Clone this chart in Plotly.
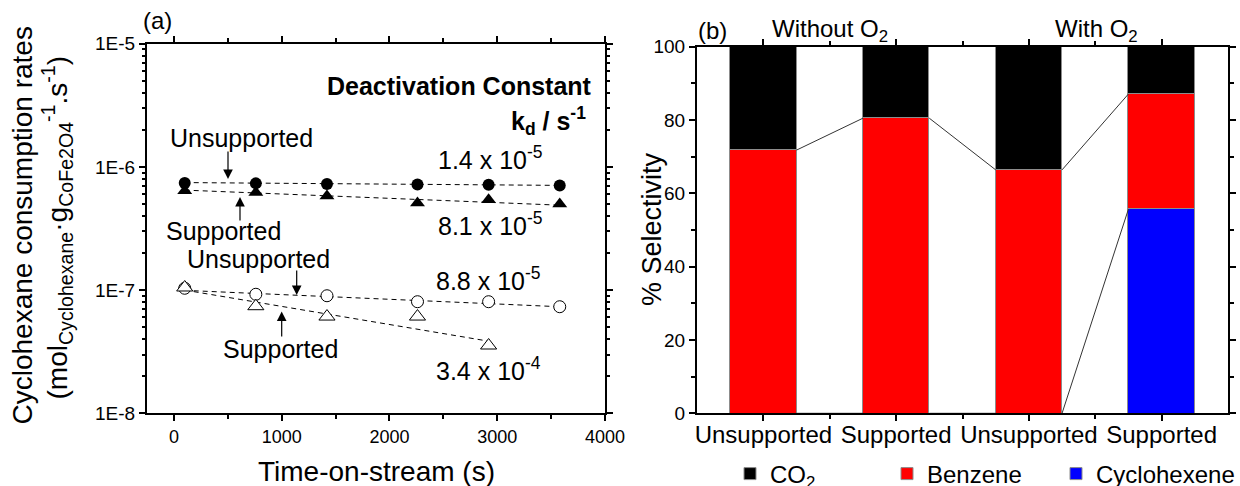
import numpy as np
import plotly.graph_objects as go

W, H = 1240, 486
FONT = "Liberation Sans, Arial, sans-serif"

# ---------------- panel (a) data ----------------
time_s = [100, 760, 1420, 2260, 2920, 3580]
rate_unsup_filled = [7.4e-7, 7.35e-7, 7.25e-7, 7.2e-7, 7.15e-7, 7.05e-7]
rate_sup_filled = [6.4e-7, 6.2e-7, 5.8e-7, 5.1e-7, 5.4e-7, 5.0e-7]
rate_unsup_open = [1.035e-7, 9.25e-8, 9.0e-8, 8.05e-8, 8.05e-8, 7.33e-8]
time_sup_open = [100, 760, 1420, 2260, 2920]
rate_sup_open = [1.05e-7, 7.4e-8, 6.1e-8, 6.1e-8, 3.55e-8]

# fitted (dashed) lines, end points
fit_time = [100, 3580]
fit_unsup_filled = [7.46e-7, 7.08e-7]
fit_sup_filled = [6.48e-7, 4.89e-7]
fit_unsup_open = [9.95e-8, 7.33e-8]
fit_time_sup_open = [100, 2920]
fit_sup_open = [1.0e-7, 3.85e-8]

kd_labels = ["1.4 x 10<sup>-5</sup>", "8.1 x 10<sup>-5</sup>",
             "8.8 x 10<sup>-5</sup>", "3.4 x 10<sup>-4</sup>"]

xa_ticks = [0, 1000, 2000, 3000, 4000]
ya_tickvals = [1e-8, 1e-7, 1e-6, 1e-5]
ya_ticktext = ["1E-8", "1E-7", "1E-6", "1E-5"]

# ---------------- panel (b) data ----------------
categories = ["Unsupported", "Supported", "Unsupported", "Supported"]
cyclohexene = [0, 0, 0, 55.7]
benzene = [71.8, 80.5, 66.4, 31.4]
co2 = [28.2, 19.5, 33.6, 12.9]

xpos = np.arange(1, len(categories) + 1)
BAR_W = 0.5

fig = go.Figure()

# ---- panel (a) traces ----
dash = "5px,4px"
for tx, ty in [(fit_time, fit_unsup_filled), (fit_time, fit_sup_filled),
               (fit_time, fit_unsup_open), (fit_time_sup_open, fit_sup_open)]:
    fig.add_trace(go.Scatter(x=tx, y=ty, mode="lines", xaxis="x", yaxis="y",
                             line=dict(color="black", width=1, dash=dash),
                             showlegend=False, hoverinfo="skip"))

fig.add_trace(go.Scatter(x=time_s, y=rate_unsup_open, mode="markers", xaxis="x", yaxis="y",
                         marker=dict(symbol="circle", size=12, color="white",
                                     line=dict(color="black", width=1)), showlegend=False))
fig.add_trace(go.Scatter(x=time_sup_open, y=rate_sup_open, mode="markers", xaxis="x", yaxis="y",
                         marker=dict(symbol="triangle-up", size=14, color="white",
                                     line=dict(color="black", width=1)), showlegend=False))
fig.add_trace(go.Scatter(x=time_s, y=rate_sup_filled, mode="markers", xaxis="x", yaxis="y",
                         marker=dict(symbol="triangle-up", size=13, color="black"), showlegend=False))
fig.add_trace(go.Scatter(x=time_s, y=rate_unsup_filled, mode="markers", xaxis="x", yaxis="y",
                         marker=dict(symbol="circle", size=12, color="black"), showlegend=False))

# ---- panel (b) traces ----
outline = dict(color="#8c8c8c", width=1)
fig.add_trace(go.Bar(x=xpos, y=cyclohexene, width=BAR_W, xaxis="x2", yaxis="y2",
                     marker=dict(color="#0000ff", line=outline), name="Cyclohexene",
                     legend="legend3"))
fig.add_trace(go.Bar(x=xpos, y=benzene, width=BAR_W, xaxis="x2", yaxis="y2",
                     marker=dict(color="#ff0000", line=outline), name="Benzene",
                     legend="legend2"))
fig.add_trace(go.Bar(x=xpos, y=co2, width=BAR_W, xaxis="x2", yaxis="y2",
                     marker=dict(color="#000000", line=outline), name="CO<sub>2</sub>",
                     legend="legend"))

# connecting lines between stacked tops
top_cyc = np.array(cyclohexene, dtype=float)
top_benz = top_cyc + np.array(benzene, dtype=float)
lx, ly = [], []
for top in (top_cyc, top_benz):
    for i in range(len(xpos) - 1):
        lx += [xpos[i] + BAR_W / 2, xpos[i + 1] - BAR_W / 2, None]
        ly += [top[i], top[i + 1], None]
fig.add_trace(go.Scatter(x=lx, y=ly, mode="lines", xaxis="x2", yaxis="y2",
                         line=dict(color="#333333", width=1), showlegend=False,
                         hoverinfo="skip"))

# ---- axes ----
axis_common = dict(showgrid=False, zeroline=False, showline=True, linecolor="black",
                   linewidth=2, mirror="allticks", ticks="outside", ticklen=6,
                   tickwidth=1.5, tickcolor="black", automargin=False,
                   tickfont=dict(family=FONT, size=18, color="black"))

def py2paper(py):
    return 1 - py / H

fig.update_layout(
    width=W, height=H, margin=dict(l=0, r=0, t=0, b=0, autoexpand=False),
    paper_bgcolor="white", plot_bgcolor="white", barmode="stack", bargap=0,
    font=dict(family=FONT, color="black"),
    xaxis=dict(axis_common, domain=[147 / W, 605 / W], range=[-250, 4000],
               tickvals=xa_ticks, anchor="y",
               minor=dict(ticks="outside", ticklen=4, tickwidth=1.5, tickcolor="black",
                          tickvals=[500, 1500, 2500, 3500], showgrid=False)),
    yaxis=dict(axis_common, type="log", domain=[py2paper(413.3), py2paper(43.7)],
               range=[-8, -5], tickvals=ya_tickvals, ticktext=ya_ticktext, anchor="x",
               tickfont=dict(family=FONT, size=19, color="black"),
               minor=dict(ticks="outside", ticklen=3, tickwidth=1.5, tickcolor="black",
                          tickvals=[m * 10.0 ** e for e in (-8, -7, -6) for m in range(2, 10)],
                          showgrid=False)),
    xaxis2=dict(axis_common, domain=[697 / W, 1228 / W], range=[0.5, 4.5],
                tickvals=list(xpos), ticktext=categories, anchor="y2",
                ticklabelstandoff=-7,
                tickfont=dict(family=FONT, size=24, color="black"),
                minor=dict(ticks="outside", ticklen=4, tickwidth=1.5, tickcolor="black",
                           tickvals=[1.5, 2.5, 3.5], showgrid=False)),
    yaxis2=dict(axis_common, domain=[py2paper(413.3), py2paper(46.7)], range=[0, 100],
                dtick=20, anchor="x2",
                tickfont=dict(family=FONT, size=19, color="black"),
                minor=dict(ticks="outside", ticklen=4, tickwidth=1.5, tickcolor="black",
                           dtick=10, showgrid=False)),
)

leg_common = dict(orientation="h", yanchor="middle", xanchor="left", y=py2paper(474),
                  xref="container", yref="container",
                  bgcolor="rgba(0,0,0,0)", font=dict(family=FONT, size=24, color="black"))
fig.update_layout(
    legend=dict(leg_common, x=730 / W),
    legend2=dict(leg_common, x=887 / W),
    legend3=dict(leg_common, x=1.0, xanchor="right"),
)

# ---- annotations ----
anns = []

def text_ann(text, px, py, size, xanchor="center", angle=0):
    anns.append(dict(text=text, x=px / W, y=py2paper(py), xref="paper", yref="paper",
                     xanchor=xanchor, yanchor="middle", showarrow=False, textangle=angle,
                     font=dict(family=FONT, size=size, color="black")))

def arrow_ann(px, py_head, py_tail):
    anns.append(dict(text="", x=px / W, y=py2paper(py_head), xref="paper", yref="paper",
                     ax=0, ay=py_tail - py_head, showarrow=True, arrowhead=2,
                     arrowsize=1.6, arrowwidth=1.2, arrowcolor="black", standoff=0))

text_ann("(a)", 157, 21, 24)
text_ann("(b)", 712.5, 30, 24)
text_ann("Without O<sub>2</sub>", 770, 31, 24, xanchor="left")
text_ann("With O<sub>2</sub>", 1053, 31, 24, xanchor="left")

text_ann("<b>Deactivation Constant</b>", 594, 86, 25, xanchor="right")
text_ann("<b>k<sub>d</sub> / s<sup>-1</sup></b>", 588, 121, 25, xanchor="right")
text_ann(kd_labels[0], 436, 158, 25, xanchor="left")
text_ann(kd_labels[1], 436, 224, 25, xanchor="left")
text_ann(kd_labels[2], 434, 279, 25, xanchor="left")
text_ann(kd_labels[3], 434, 369, 25, xanchor="left")

text_ann("Unsupported", 241, 137.5, 25)
text_ann("Supported", 223.5, 231.5, 25)
text_ann("Unsupported", 258.5, 259, 25)
text_ann("Supported", 280.5, 349, 25)
arrow_ann(228, 179, 150)
arrow_ann(240, 197, 222)
arrow_ann(296.7, 295, 269)
arrow_ann(281.7, 311.5, 338)

text_ann("Cyclohexane consumption rates", 22, 225.5, 28, angle=-90)
text_ann("(mol<sub>Cyclohexane</sub>·g<sub>CoFe2O4</sub><sup>-1</sup>.s<sup>-1</sup>)",
         57, 227.5, 28, angle=-90)
text_ann("Time-on-stream (s)", 376.7, 471, 28)
text_ann("% Selectivity", 652, 229, 27, angle=-90)

fig.update_layout(annotations=anns)

fig.write_html("out.html")
